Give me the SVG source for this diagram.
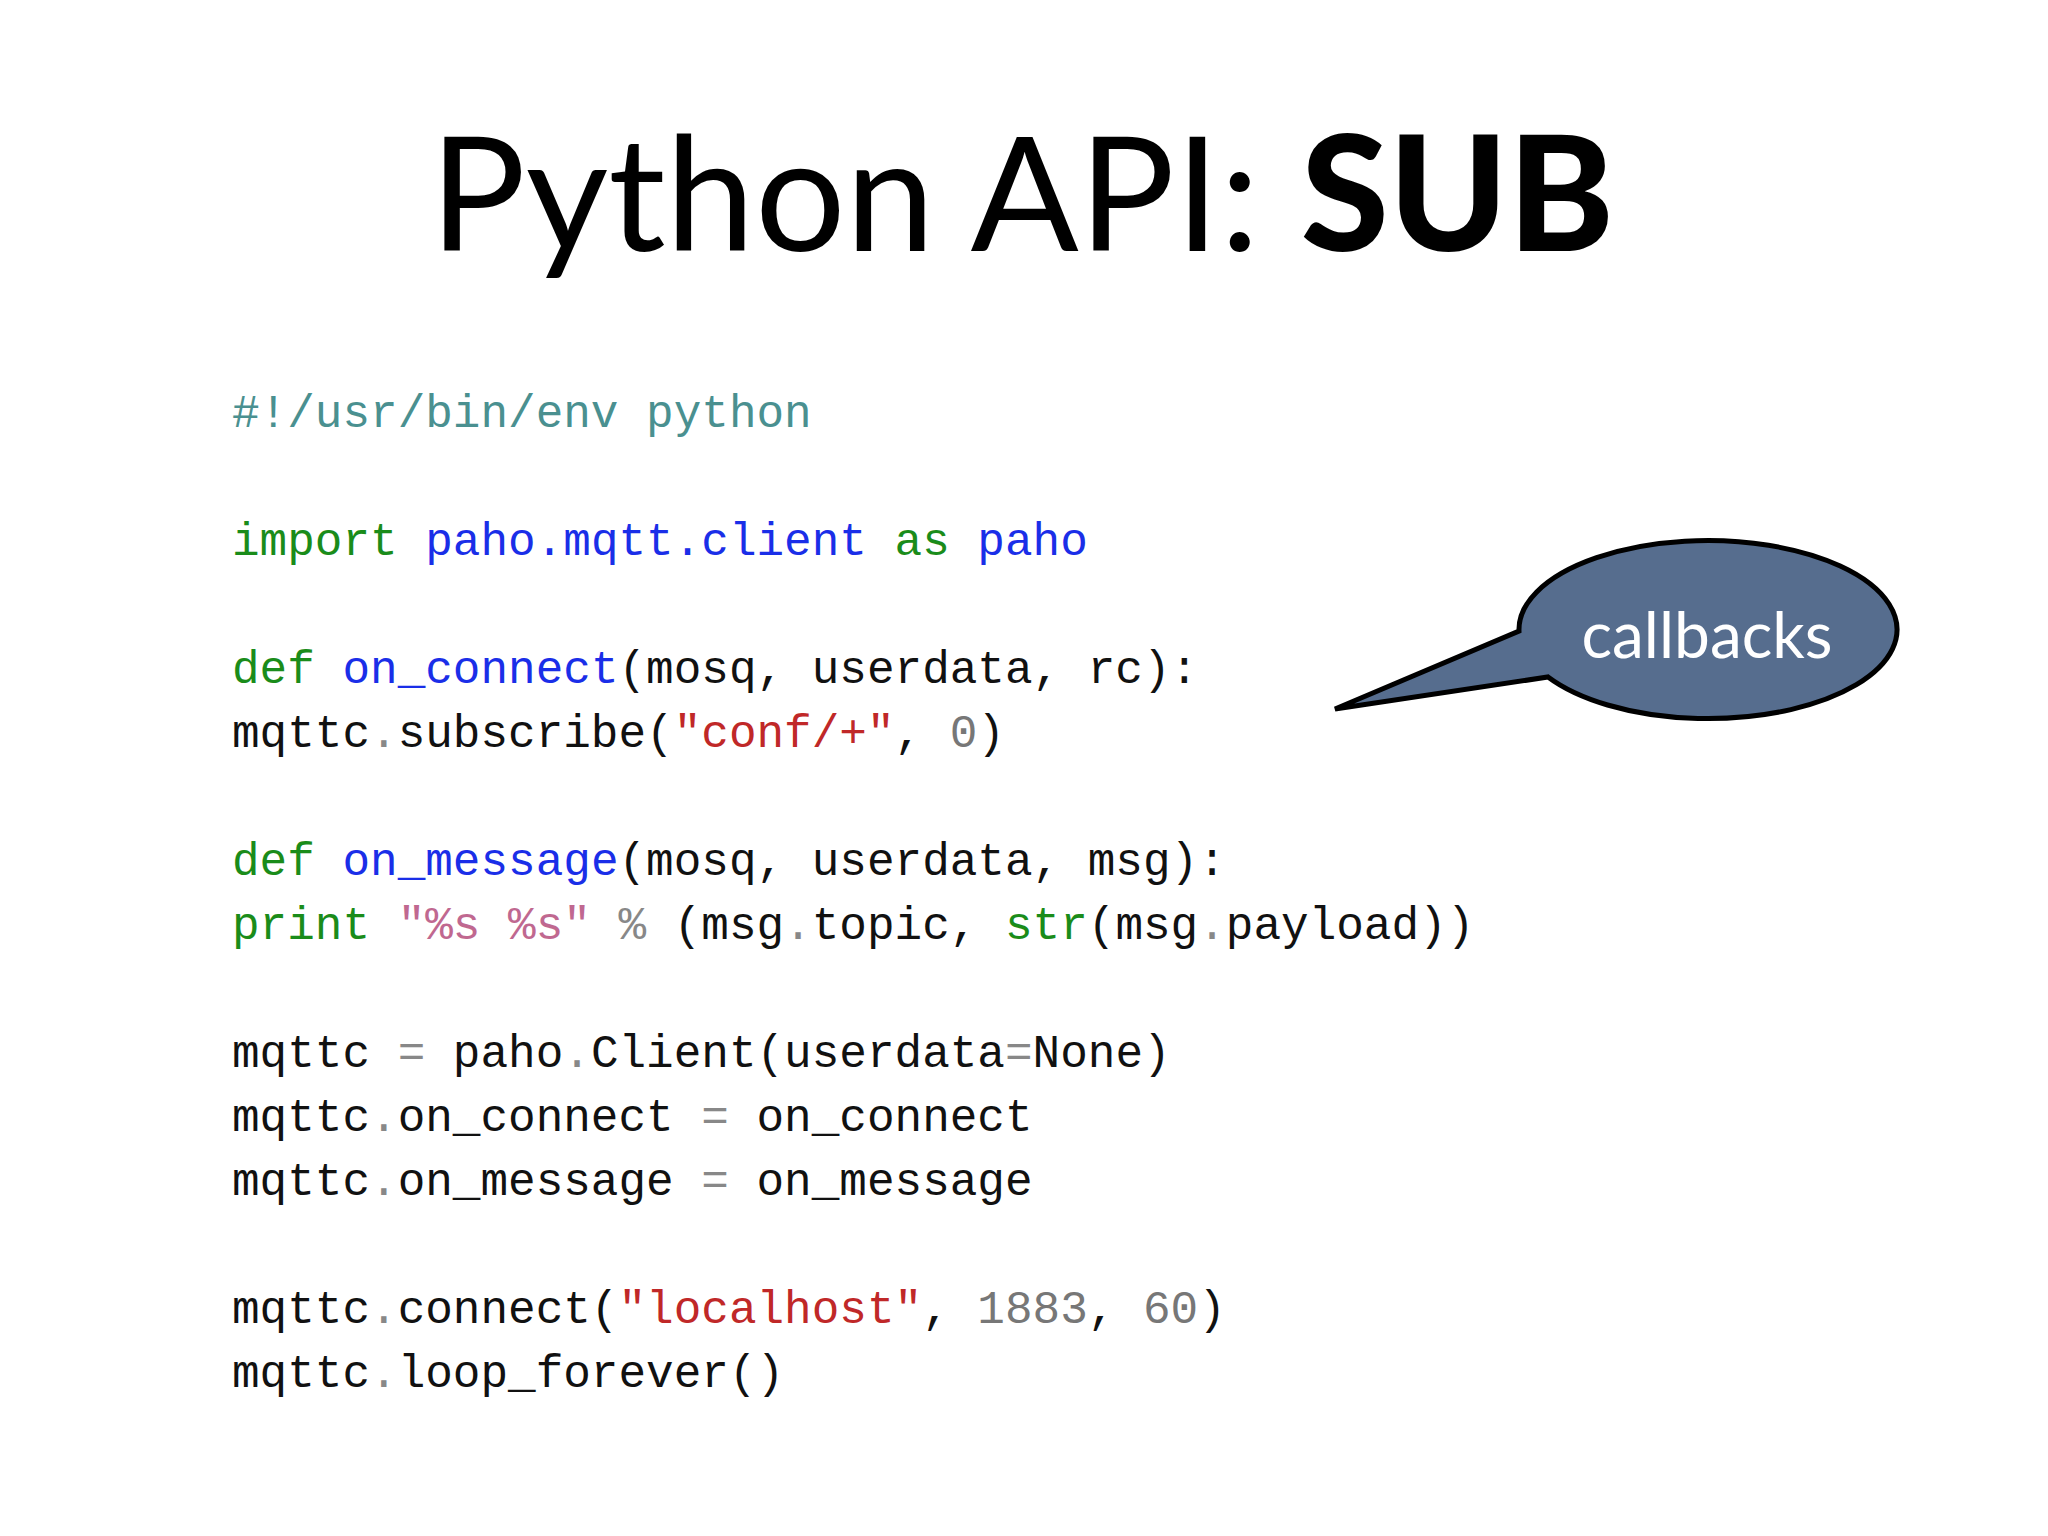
<svg xmlns="http://www.w3.org/2000/svg" width="2048" height="1536" viewBox="0 0 2048 1536">
<style>
.code{font-family:"Liberation Mono","DejaVu Sans Mono",monospace;font-size:46px;fill:#111;white-space:pre}
.c{fill:#4a9090}.k{fill:#1a8c1a}.n{fill:#1a2ee8}.s{fill:#c02828}.d{fill:#888}.p{fill:#c06890}.g{fill:#777}
</style>
<rect width="2048" height="1536" fill="#fff"/>
<g id="title"><text x="1022" y="251" text-anchor="middle" font-family="Lato,'Open Sans',sans-serif" font-size="160" fill="#000">Python API: <tspan font-weight="900">SUB</tspan></text></g>
<g id="code" class="code" xml:space="preserve">
<text x="232" y="427"><tspan class="c">#!/usr/bin/env python</tspan></text>
<text x="232" y="555"><tspan class="k">import</tspan> <tspan class="n">paho.mqtt.client</tspan> <tspan class="k">as</tspan> <tspan class="n">paho</tspan></text>
<text x="232" y="683"><tspan class="k">def</tspan> <tspan class="n">on_connect</tspan>(mosq, userdata, rc):</text>
<text x="232" y="747">    mqttc<tspan class="d">.</tspan>subscribe(<tspan class="s">"conf/+"</tspan>, <tspan class="g">0</tspan>)</text>
<text x="232" y="875"><tspan class="k">def</tspan> <tspan class="n">on_message</tspan>(mosq, userdata, msg):</text>
<text x="232" y="939">    <tspan class="k">print</tspan> <tspan class="p">"%s %s"</tspan> <tspan class="d">%</tspan> (msg<tspan class="d">.</tspan>topic, <tspan class="k">str</tspan>(msg<tspan class="d">.</tspan>payload))</text>
<text x="232" y="1067">mqttc <tspan class="d">=</tspan> paho<tspan class="d">.</tspan>Client(userdata<tspan class="d">=</tspan>None)</text>
<text x="232" y="1131">mqttc<tspan class="d">.</tspan>on_connect <tspan class="d">=</tspan> on_connect</text>
<text x="232" y="1195">mqttc<tspan class="d">.</tspan>on_message <tspan class="d">=</tspan> on_message</text>
<text x="232" y="1323">mqttc<tspan class="d">.</tspan>connect(<tspan class="s">"localhost"</tspan>, <tspan class="g">1883</tspan>, <tspan class="g">60</tspan>)</text>
<text x="232" y="1387">mqttc<tspan class="d">.</tspan>loop_forever()</text>
</g>
<g id="callout">
<path d="M1519,631 A189,89 0 1 1 1548,677 L1335,709 Z" fill="#566d8e" stroke="#000" stroke-width="5" stroke-linejoin="miter"/>
<text x="1707" y="658" text-anchor="middle" font-family="Lato,'Open Sans',sans-serif" font-size="64" fill="#fff">callbacks</text>
</g>
</svg>
